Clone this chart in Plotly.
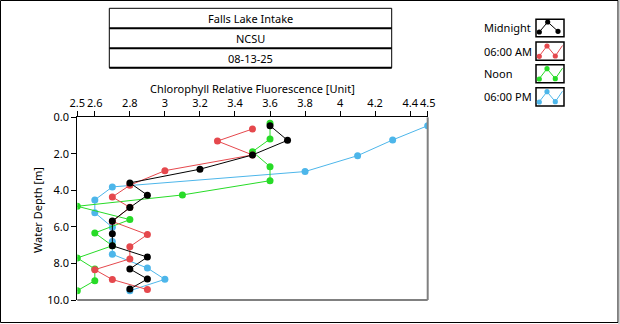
import plotly.graph_objects as go

# ---------------- data ----------------
series_names = ["Midnight", "06:00 AM", "Noon", "06:00 PM"]

midnight_x = [3.6, 3.7, 3.5, 3.2, 2.8, 2.9, 2.8, 2.7, 2.7, 2.7, 2.9, 2.8, 2.9, 2.8]
midnight_d = [0.46, 1.26, 2.06, 2.84, 3.59, 4.26, 4.94, 5.68, 6.38, 7.03, 7.65, 8.30, 8.85, 9.40]

am6_x = [3.5, 3.3, 3.5, 3.0, 2.8, 2.7, 2.8, 2.7, 2.9, 2.8, 2.8, 2.6, 2.7, 2.9]
am6_d = [0.64, 1.30, 2.06, 2.92, 3.72, 4.36, 4.93, 5.70, 6.42, 7.08, 7.75, 8.34, 8.88, 9.43]

noon_x = [3.6, 3.6, 3.5, 3.6, 3.6, 3.1, 2.5, 2.8, 2.6, 2.7, 2.5, 2.6, 2.6, 2.5]
noon_d = [0.33, 1.19, 1.88, 2.70, 3.47, 4.25, 4.87, 5.60, 6.33, 7.03, 7.70, 8.30, 8.94, 9.49]

pm6_x = [4.5, 4.3, 4.1, 3.8, 2.7, 2.6, 2.6, 2.7, 2.7, 2.7, 2.9, 3.0, 2.8]
pm6_d = [0.46, 1.24, 2.10, 2.97, 3.81, 4.52, 5.22, 6.02, 6.80, 7.50, 8.25, 8.87, 9.49]

x_tickvals = [2.5, 2.6, 2.8, 3.0, 3.2, 3.4, 3.6, 3.8, 4.0, 4.2, 4.4, 4.5]
x_ticktext = ["2.5", "2.6", "2.8", "3", "3.2", "3.4", "3.6", "3.8", "4", "4.2", "4.4", "4.5"]
y_tickvals = [0, 2, 4, 6, 8, 10]
y_ticktext = ["0.0", "2.0", "4.0", "6.0", "8.0", "10.0"]

title_lines = ["Falls Lake Intake", "NCSU", "08-13-25"]
x_title = "Chlorophyll Relative Fluorescence [Unit]"
y_title = "Water Depth [m]"

colors = {"Midnight": "#000000", "06:00 AM": "#E5484D", "Noon": "#27DB27", "06:00 PM": "#4DB6EA"}

# ---------------- layout helpers (pixel -> paper) ----------------
W, H = 620, 324
def px(x):
    return x / W
def py(y):
    return 1 - y / H

FONT = "Noto Sans"
FS = 11

fig = go.Figure()

data = {
    "Midnight": (midnight_x, midnight_d),
    "06:00 AM": (am6_x, am6_d),
    "Noon": (noon_x, noon_d),
    "06:00 PM": (pm6_x, pm6_d),
}
for name in ["06:00 PM", "Noon", "06:00 AM", "Midnight"]:
    xs, ds = data[name]
    fig.add_trace(go.Scatter(
        x=xs, y=ds, mode="lines+markers", name=name,
        line=dict(color=colors[name], width=1),
        marker=dict(color=colors[name], size=7, symbol="circle"),
        showlegend=False,
    ))

PL, PR, PT, PB = 77.3, 427.7, 117.3, 300.0

fig.update_layout(
    width=W, height=H, autosize=False,
    margin=dict(l=0, r=0, t=0, b=0, pad=0),
    paper_bgcolor="white", plot_bgcolor="white",
    font=dict(family=FONT, size=FS, color="black"),
    xaxis=dict(
        domain=[px(PL), px(PR)], range=[2.5, 4.5], side="top",
        tickvals=x_tickvals, ticktext=x_ticktext, tickangle=0,
        ticks="outside", ticklen=5, tickcolor="black", tickwidth=1,
        showline=True, linecolor="black", linewidth=1,
        showgrid=False, zeroline=False, automargin=False,
        tickfont=dict(family=FONT, size=FS, color="black"),
    ),
    yaxis=dict(
        domain=[py(PB), py(PT)], range=[10, 0],
        tickvals=y_tickvals, ticktext=y_ticktext,
        ticks="outside", ticklen=5, tickcolor="black", tickwidth=1,
        showline=True, linecolor="black", linewidth=1,
        showgrid=False, zeroline=False, automargin=False,
        tickfont=dict(family=FONT, size=FS, color="black"),
    ),
)

shapes = []
# outer frame
shapes.append(dict(type="rect", xref="paper", yref="paper",
                   x0=px(0.5), x1=px(618), y0=py(0.5), y1=py(322.5),
                   line=dict(color="black", width=1)))
shapes.append(dict(type="line", xref="paper", yref="paper",
                   x0=px(619), x1=px(619), y0=py(0), y1=py(324),
                   line=dict(color="#A0A0A0", width=1)))
# plot area right / bottom (sunken look)
shapes.append(dict(type="line", xref="paper", yref="paper",
                   x0=px(PR), x1=px(PR), y0=py(PT), y1=py(PB),
                   line=dict(color="#808080", width=2)))
shapes.append(dict(type="line", xref="paper", yref="paper",
                   x0=px(PL), x1=px(PR), y0=py(PB), y1=py(PB),
                   line=dict(color="#808080", width=2)))
# title box
BX0, BX1 = 109.3, 391.7
rows = [8.3, 28.3, 48.3, 67.7]
shapes.append(dict(type="rect", xref="paper", yref="paper",
                   x0=px(BX0), x1=px(BX1), y0=py(rows[0]), y1=py(rows[3]),
                   line=dict(color="black", width=1)))
for r in rows[1:]:
    shapes.append(dict(type="line", xref="paper", yref="paper",
                       x0=px(BX0), x1=px(BX1), y0=py(r), y1=py(r),
                       line=dict(color="black", width=2)))

annotations = []
for i, t in enumerate(title_lines):
    annotations.append(dict(text=t, xref="paper", yref="paper",
                            x=px((BX0 + BX1) / 2), y=py((rows[i] + rows[i + 1]) / 2 + 0.5),
                            xanchor="center", yanchor="middle", showarrow=False,
                            font=dict(family=FONT, size=FS, color="black")))
annotations.append(dict(text=x_title, xref="paper", yref="paper",
                        x=px((PL + PR) / 2), y=py(88), xanchor="center", yanchor="middle",
                        showarrow=False, font=dict(family=FONT, size=FS, color="black")))
annotations.append(dict(text=y_title, xref="paper", yref="paper",
                        x=px(37), y=py(210), xanchor="center", yanchor="middle",
                        textangle=-90, showarrow=False,
                        font=dict(family=FONT, size=FS, color="black")))

# legend (text + framed icon glyphs)
leg_boxes = [(19.3, 36.7), (42.0, 60.3), (64.7, 82.7), (87.7, 106.0)]
IX0, IX1 = 536.0, 564.0
for name, (y0, y1) in zip(series_names, leg_boxes):
    c = colors[name]
    cy = (y0 + y1) / 2
    annotations.append(dict(text=name, xref="paper", yref="paper",
                            x=px(482), y=py(cy), xanchor="left", yanchor="middle",
                            showarrow=False, font=dict(family=FONT, size=FS, color="black")))
    shapes.append(dict(type="rect", xref="paper", yref="paper",
                       x0=px(IX0), x1=px(IX1), y0=py(y0), y1=py(y1),
                       line=dict(color="black", width=1.5)))
    if name == "Midnight":
        pts = [(539.3, y0 + 12.7), (547.7, y0 + 2.7), (558.0, y0 + 12.0)]
        dots = pts
    else:
        pts = [(538.5, y0 + 15.0), (547.0, y0 + 4.0), (555.3, y0 + 14.0), (562.5, y0 + 3.5)]
        dots = [(539.3, y0 + 14.3), (547.0, y0 + 4.0), (555.3, y0 + 14.0)]
    path = "M " + " L ".join(f"{px(a)},{py(b)}" for a, b in pts)
    shapes.append(dict(type="path", xref="paper", yref="paper", path=path,
                       line=dict(color=c, width=1)))
    for a, b in dots:
        shapes.append(dict(type="circle", xref="paper", yref="paper",
                           x0=px(a - 2.6), x1=px(a + 2.6), y0=py(b - 2.6), y1=py(b + 2.6),
                           fillcolor=c, line=dict(color=c, width=0)))

fig.update_layout(shapes=shapes, annotations=annotations)
fig.write_html("out.html")
